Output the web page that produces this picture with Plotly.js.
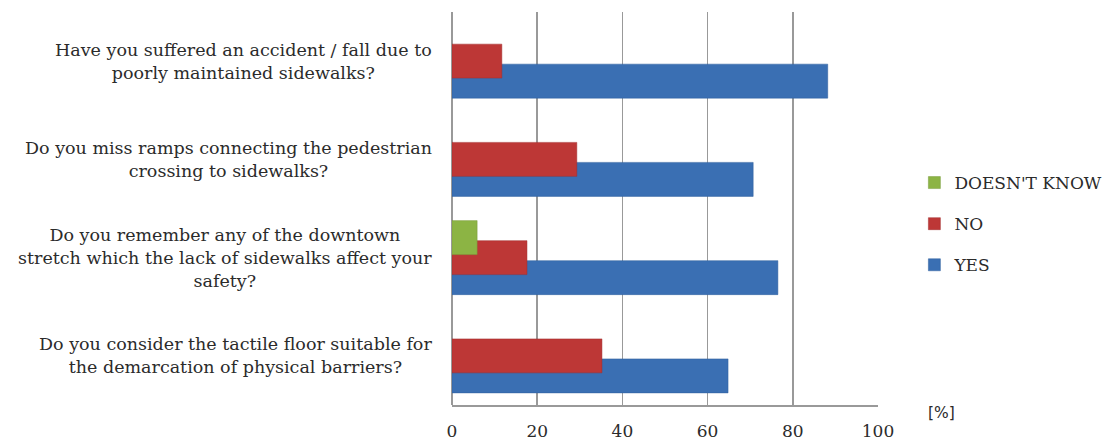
<!DOCTYPE html>
<html><head><meta charset="utf-8">
<script src="https://cdn.plot.ly/plotly-3.0.1.min.js"></script>
<style>html,body{margin:0;padding:0;background:#fff}</style>
</head><body><div id="chart" style="width:1105px;height:441px"></div>
<script>
var categories = [
  "Have you suffered an accident / fall due to<br>poorly maintained sidewalks?",
  "Do you miss ramps connecting the pedestrian<br>crossing to sidewalks?",
  "Do you remember any of the downtown<br>stretch which the lack of sidewalks affect your<br>safety?",
  "Do you consider the tactile floor suitable for<br>the demarcation of physical barriers?"
];
var yesValues = [88.2, 70.7, 76.5, 64.8];
var noValues = [11.7, 29.3, 17.6, 35.2];
var dkValues = [null, null, 5.9, null];
var seriesNames = ["YES", "NO", "DOESN'T KNOW"];
var xTicks = [0, 20, 40, 60, 80, 100];

var serif = "DejaVu Serif, serif";
var txt = "#2b2b2b";
var barW = 0.346;

function tr(name, vals, color, line, off, grp, rank) {
  return {
    type: 'bar', orientation: 'h', name: name,
    x: vals, y: categories,
    width: barW, offset: off,
    marker: {color: color, line: {color: line, width: 0.5}},
    legendgroup: grp, legendrank: rank, hoverinfo: 'x+name'
  };
}
var data = [
  tr(seriesNames[0], yesValues, '#3a6fb3', '#2f5e9c', 0.0306, 'a', 3),
  tr(seriesNames[1], noValues, '#bd3736', '#a22f2e', -0.173, 'b', 2),
  tr(seriesNames[2], dkValues, '#8cb444', '#789a3a', -0.3766, 'c', 1)
];

var annotations = categories.map(function(c) {
  return {xref: 'paper', yref: 'y', x: 0, y: c, xanchor: 'right', yanchor: 'middle',
    xshift: -18, align: 'center', showarrow: false, text: c,
    font: {family: serif, size: 17.5, color: txt}};
});
annotations.push({xref: 'paper', yref: 'paper', x: 1.112, y: -0.02, xanchor: 'left', yanchor: 'middle',
  showarrow: false, text: '[%]', font: {family: "DejaVu Sans, sans-serif", size: 15.5, color: txt}});

var layout = {
  width: 1105, height: 441,
  margin: {l: 452, r: 227, t: 12, b: 36},
  barmode: 'overlay',
  paper_bgcolor: '#fff', plot_bgcolor: '#fff',
  font: {family: serif, color: txt},
  xaxis: {range: [0, 100], tickvals: xTicks, ticktext: xTicks.map(String),
    showgrid: true, gridcolor: '#999999', gridwidth: 1.5,
    zeroline: true, zerolinecolor: '#999999', zerolinewidth: 1.5,
    showline: true, linecolor: '#999999', linewidth: 2,
    ticks: '', ticklabelstandoff: 10,
    tickfont: {family: serif, size: 17, color: txt}, fixedrange: true},
  yaxis: {autorange: 'reversed', showticklabels: false, showgrid: false,
    zeroline: false, showline: false, ticks: '', fixedrange: true},
  showlegend: true,
  legend: {xref: 'container', yref: 'container', x: 0.8275, xanchor: 'left', y: 0.492, yanchor: 'middle',
    traceorder: 'grouped', tracegroupgap: 16,
    font: {family: serif, size: 17, color: txt}, bgcolor: 'rgba(0,0,0,0)'},
  annotations: annotations
};
Plotly.newPlot('chart', data, layout, {displayModeBar: false, staticPlot: true});
</script></body></html>
